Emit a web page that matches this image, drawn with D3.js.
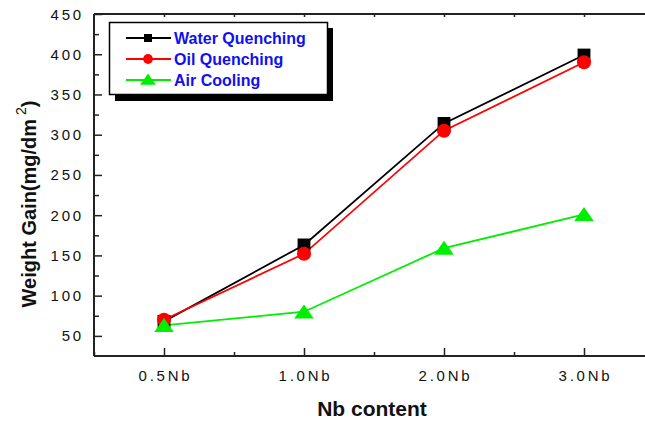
<!DOCTYPE html>
<html><head><meta charset="utf-8">
<script src="https://cdn.jsdelivr.net/npm/d3@7"></script>
<style>body{margin:0;background:#fff}svg{display:block}</style>
</head><body><svg id="c" width="645" height="423"></svg>
<script>
const categories = ["0.5Nb", "1.0Nb", "2.0Nb", "3.0Nb"];
const waterQuenching = [68, 163, 314, 399];
const oilQuenching = [70, 152, 305, 390];
const airCooling = [63, 80, 159, 201];
const yTicks = [50, 100, 150, 200, 250, 300, 350, 400, 450];
const seriesNames = ["Water Quenching", "Oil Quenching", "Air Cooling"];

const svg = d3.select("#c");
const L = 94, T = 14, B = 356, R = 654;
const x = d3.scaleLinear().domain([-0.5, 3.5]).range([L, R]);
const y = d3.scaleLinear().domain([25, 450]).range([B, T]);

const series = [
  {name: seriesNames[0], values: waterQuenching, color: "#000000", sym: d3.symbolSquare, size: 165, lsize: 64},
  {name: seriesNames[1], values: oilQuenching, color: "#ff0000", sym: d3.symbolCircle, size: 155, lsize: 75},
  {name: seriesNames[2], values: airCooling, color: "#00ee00", sym: d3.symbolTriangle, size: 125, lsize: 80}
];

// axes
const gx = svg.append("g").attr("transform", `translate(0,${B})`)
  .call(d3.axisTop(x).tickValues([0,1,2,3]).tickSize(8).tickFormat(""));
gx.select(".domain").remove();
svg.append("g").attr("transform", `translate(0,${B})`)
  .call(d3.axisTop(x).tickValues([-0.5,0.5,1.5,2.5,3.5]).tickSize(4).tickFormat(""))
  .select(".domain").remove();
svg.append("g").attr("transform", `translate(0,${T})`)
  .call(d3.axisBottom(x).tickValues([0,0.5,1,1.5,2,2.5,3]).tickSize(3).tickFormat(""))
  .select(".domain").remove();
svg.append("g").attr("transform", `translate(${L},0)`)
  .call(d3.axisRight(y).tickValues(yTicks).tickSize(8).tickFormat(""))
  .select(".domain").remove();
svg.append("g").attr("transform", `translate(${L},0)`)
  .call(d3.axisRight(y).tickValues(d3.range(75, 450, 50)).tickSize(5).tickFormat(""))
  .select(".domain").remove();
svg.selectAll(".tick line").attr("stroke", "#222").attr("stroke-width", 1.5);

// frame lines
svg.append("line").attr("x1", L).attr("x2", R).attr("y1", B).attr("y2", B).attr("stroke", "#222").attr("stroke-width", 2);
svg.append("line").attr("x1", L).attr("x2", R).attr("y1", T).attr("y2", T).attr("stroke", "#222").attr("stroke-width", 2);
svg.append("line").attr("x1", L).attr("x2", L).attr("y1", T).attr("y2", B).attr("stroke", "#222").attr("stroke-width", 2);

// tick labels
const tickFont = "Liberation Sans, Arial, sans-serif";
svg.append("g").selectAll("text").data(yTicks).join("text")
  .attr("x", 84).attr("y", d => y(d) + 5.5)
  .attr("text-anchor", "end").attr("font-family", tickFont).attr("font-size", 15)
  .attr("letter-spacing", 2.8).attr("fill", "#111").text(d => d);
svg.append("g").selectAll("text").data(categories).join("text")
  .attr("x", (d, i) => x(i) + 1.5).attr("y", 381)
  .attr("text-anchor", "middle").attr("font-family", tickFont).attr("font-size", 15)
  .attr("letter-spacing", 2.8).attr("fill", "#111").text(d => d);

// titles
svg.append("text").attr("x", 372).attr("y", 416).attr("text-anchor", "middle")
  .attr("font-family", tickFont).attr("font-weight", "bold").attr("font-size", 21)
  .attr("fill", "#111").text("Nb content");
const yl = svg.append("text").attr("transform", "translate(36,204) rotate(-90)")
  .attr("text-anchor", "middle").attr("font-family", tickFont).attr("font-weight", "bold")
  .attr("font-size", 20).attr("fill", "#111");
yl.append("tspan").text("Weight Gain(mg/dm");
yl.append("tspan").attr("dy", -10).attr("font-size", 14).attr("font-weight", "normal").text(" 2");
yl.append("tspan").attr("dy", 10).text(")");

// lines and markers
const line = d3.line().x((d, i) => x(i)).y(d => y(d));
series.forEach(s => {
  svg.append("path").datum(s.values).attr("d", line)
    .attr("fill", "none").attr("stroke", s.color).attr("stroke-width", 1.8);
});
series.forEach(s => {
  const tri = s.sym === d3.symbolTriangle;
  svg.append("g").selectAll("path").data(s.values).join("path")
    .attr("transform", (d, i) => `translate(${x(i)},${y(d) + (tri ? 2 : 0)})` + (tri ? " scale(1.15,0.95)" : ""))
    .attr("d", d3.symbol().type(s.sym).size(s.size)).attr("fill", s.color);
});

// legend
const lg = svg.append("g");
lg.append("rect").attr("x", 115).attr("y", 28).attr("width", 218).attr("height", 73).attr("fill", "#000");
lg.append("rect").attr("x", 109.5).attr("y", 22.5).attr("width", 218).attr("height", 72)
  .attr("fill", "#fff").attr("stroke", "#000").attr("stroke-width", 1.5);
series.forEach((s, i) => {
  const ly = 38 + i * 21;
  const tri = s.sym === d3.symbolTriangle;
  lg.append("line").attr("x1", 126).attr("x2", 171).attr("y1", ly).attr("y2", ly)
    .attr("stroke", s.color).attr("stroke-width", 1.8);
  lg.append("path").attr("transform", `translate(148,${ly + (tri ? 1 : 0)})` + (tri ? " scale(1.15,0.95)" : ""))
    .attr("d", d3.symbol().type(s.sym).size(s.lsize)).attr("fill", s.color);
  lg.append("text").attr("x", 174).attr("y", ly + 6).attr("font-family", tickFont)
    .attr("font-weight", "bold").attr("font-size", 16).attr("fill", "#1010ee").text(s.name);
});
</script></body></html>
